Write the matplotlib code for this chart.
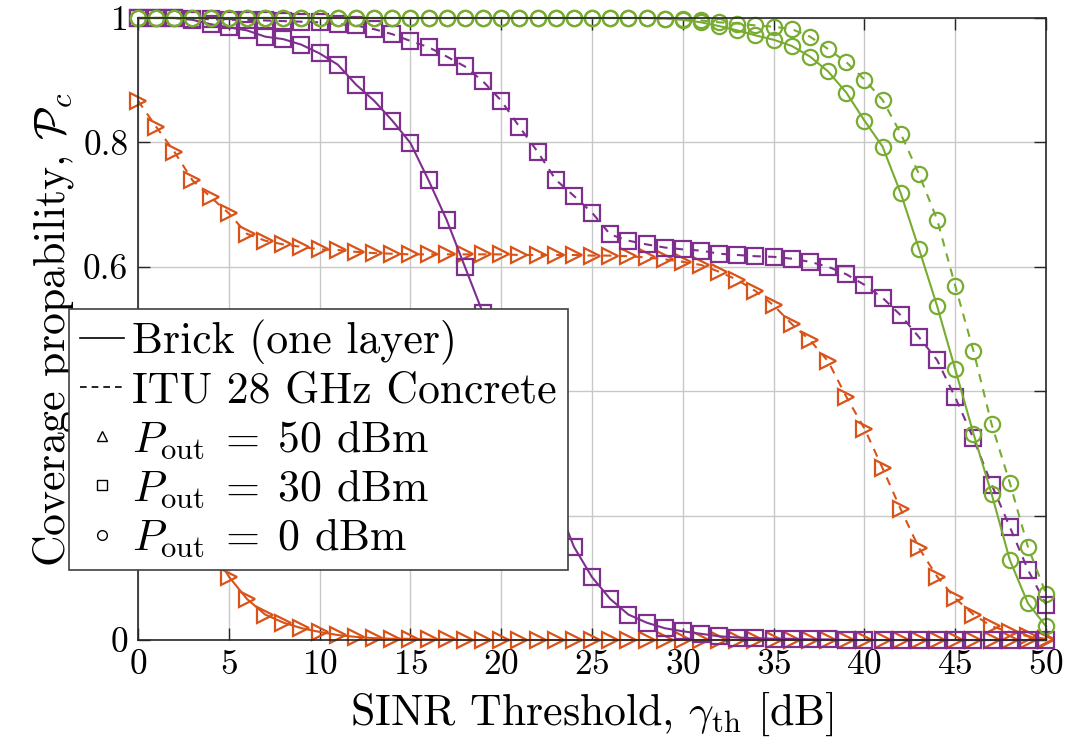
import matplotlib
matplotlib.use("Agg")
import matplotlib.pyplot as plt
from matplotlib.lines import Line2D

plt.rcParams['font.family'] = 'serif'
plt.rcParams['font.serif'] = ['cmr10']
plt.rcParams['mathtext.fontset'] = 'cm'
plt.rcParams['axes.formatter.use_mathtext'] = True

# SINR threshold grid [dB]
sinr_db = list(range(0, 51))

# P_out = 50 dBm
brick_50 = [0.45, 0.375, 0.30, 0.225, 0.15, 0.102, 0.066, 0.041, 0.028, 0.019,
            0.013, 0.008, 0.005, 0.003, 0.002, 0.002, 0.001, 0.001, 0, 0,
            0, 0, 0, 0, 0, 0, 0, 0, 0, 0,
            0, 0, 0, 0, 0, 0, 0, 0, 0, 0,
            0, 0, 0, 0, 0, 0, 0, 0, 0, 0, 0]
itu_50 = [0.867, 0.825, 0.785, 0.739, 0.712, 0.686, 0.653, 0.642, 0.636, 0.632,
          0.628, 0.627, 0.624, 0.622, 0.621, 0.620, 0.620, 0.620, 0.620, 0.620,
          0.620, 0.619, 0.619, 0.619, 0.619, 0.618, 0.618, 0.617, 0.615, 0.612,
          0.608, 0.603, 0.592, 0.579, 0.561, 0.538, 0.508, 0.482, 0.448, 0.391,
          0.340, 0.276, 0.210, 0.148, 0.102, 0.067, 0.041, 0.022, 0.013, 0.006, 0.002]

# P_out = 30 dBm
brick_30 = [1.0, 1.0, 1.0, 0.997, 0.990, 0.985, 0.980, 0.970, 0.966, 0.957,
            0.943, 0.925, 0.893, 0.867, 0.835, 0.799, 0.739, 0.675, 0.600, 0.525,
            0.45, 0.375, 0.30, 0.225, 0.150, 0.101, 0.066, 0.041, 0.028, 0.019,
            0.014, 0.010, 0.006, 0.004, 0.003, 0.002, 0.002, 0.001, 0.001, 0,
            0, 0, 0, 0, 0, 0, 0, 0, 0, 0, 0]
itu_30 = [1.0, 1.0, 1.0, 0.999, 0.998, 0.997, 0.997, 0.996, 0.995, 0.994,
          0.993, 0.990, 0.988, 0.982, 0.974, 0.963, 0.953, 0.938, 0.922, 0.898,
          0.867, 0.825, 0.785, 0.740, 0.714, 0.687, 0.652, 0.642, 0.636, 0.631,
          0.628, 0.626, 0.621, 0.619, 0.617, 0.616, 0.613, 0.608, 0.600, 0.588,
          0.571, 0.550, 0.522, 0.487, 0.450, 0.390, 0.324, 0.250, 0.182, 0.113, 0.057]

# P_out = 0 dBm
brick_0 = [1.0, 1.0, 1.0, 1.0, 1.0, 1.0, 1.0, 1.0, 1.0, 1.0,
           1.0, 1.0, 1.0, 1.0, 1.0, 1.0, 1.0, 1.0, 1.0, 1.0,
           1.0, 1.0, 1.0, 1.0, 1.0, 1.0, 1.0, 1.0, 1.0, 0.999,
           0.997, 0.993, 0.987, 0.980, 0.972, 0.965, 0.955, 0.938, 0.914, 0.880,
           0.835, 0.793, 0.718, 0.629, 0.537, 0.435, 0.332, 0.235, 0.129, 0.059, 0.022]
itu_0 = [1.0, 1.0, 1.0, 1.0, 1.0, 1.0, 1.0, 1.0, 1.0, 1.0,
         1.0, 1.0, 1.0, 1.0, 1.0, 1.0, 1.0, 1.0, 1.0, 1.0,
         1.0, 1.0, 1.0, 1.0, 1.0, 1.0, 1.0, 1.0, 1.0, 0.999,
         0.998, 0.996, 0.993, 0.991, 0.988, 0.986, 0.982, 0.970, 0.950, 0.929,
         0.901, 0.868, 0.814, 0.749, 0.676, 0.569, 0.465, 0.347, 0.253, 0.150, 0.074]

orange = "#D95319"
purple = "#7E2F8E"
green = "#77AC30"
dash = (0, (4, 3.5))

fig = plt.figure(figsize=(10.74, 7.49), dpi=100)
ax = fig.add_axes([0.1285, 0.1455, 0.8455, 0.8305])
ax.set_axisbelow(True)

series = [
    (brick_50, orange, ">", "-"),
    (itu_50, orange, ">", dash),
    (brick_30, purple, "s", "-"),
    (itu_30, purple, "s", dash),
    (brick_0, green, "o", "-"),
    (itu_0, green, "o", dash),
]
for vals, col, mk, ls in series:
    ax.plot(sinr_db, vals, color=col, linestyle=ls, linewidth=1.5,
            marker=mk, markersize=11, markeredgewidth=1.6,
            markerfacecolor="none", clip_on=False)

ax.set_xlim(0, 50)
ax.set_ylim(0, 1)
ax.set_xticks([0, 5, 10, 15, 20, 25, 30, 35, 40, 45, 50])
ax.set_yticks([0, 0.2, 0.4, 0.6, 0.8, 1.0])
ax.set_yticklabels(["0", "0.2", "0.4", "0.6", "0.8", "1"])
ax.grid(True, color="#c8c8c8", linewidth=1.0)
ax.tick_params(direction="in", length=8.5, width=1.0, top=True, right=True,
               labelsize=25.5, pad=7, color="#262626")
for s in ax.spines.values():
    s.set_color("#262626")
    s.set_linewidth(1.2)

ax.set_xlabel(r"SINR Threshold, $\gamma_{\mathrm{th}}$ [dB]", fontsize=31.5, labelpad=6)
ax.set_ylabel(r"Coverage propability, $\mathcal{P}_c$", fontsize=31.5, labelpad=5)

handles = [
    Line2D([], [], color="black", linewidth=1.2, linestyle="-"),
    Line2D([], [], color="black", linewidth=1.2, linestyle=(0, (4, 3))),
    Line2D([], [], color="black", linestyle="none", marker="^", markersize=7,
           markerfacecolor="none", markeredgewidth=1.0),
    Line2D([], [], color="black", linestyle="none", marker="s", markersize=7,
           markerfacecolor="none", markeredgewidth=1.0),
    Line2D([], [], color="black", linestyle="none", marker="o", markersize=7,
           markerfacecolor="none", markeredgewidth=1.0),
]
labels = [
    "Brick (one layer)",
    "ITU 28 GHz Concrete",
    r"$P_{\mathrm{out}}\;=\;50$ dBm",
    r"$P_{\mathrm{out}}\;=\;30$ dBm",
    r"$P_{\mathrm{out}}\;=\;0$ dBm",
]
leg = ax.legend(handles, labels, loc="lower left", bbox_to_anchor=(-0.076, 0.112),
                fontsize=31.5, frameon=True, fancybox=False, framealpha=1,
                edgecolor="#404040", handlelength=1.0, handletextpad=0.2,
                labelspacing=0.15, borderpad=0.25, borderaxespad=0)
leg.get_frame().set_linewidth(1.2)
leg.set_zorder(10)

fig.savefig("out.png", dpi=100)
